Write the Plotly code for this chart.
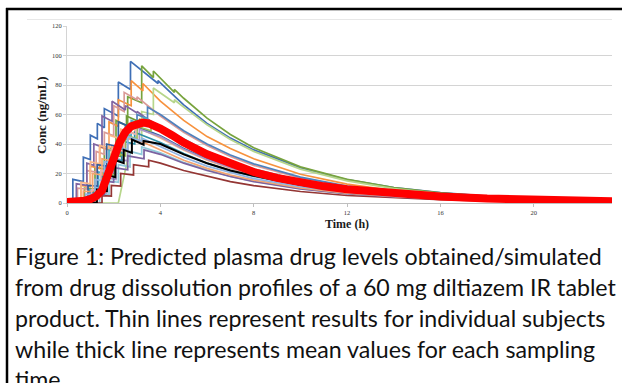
import plotly.graph_objects as go

# ---------------- data ----------------
DECAY_T = [4, 5, 6, 7, 8, 10, 12, 14, 16, 18, 20, 23.35]

S01_RISE_T = [0, 0.25, 0.25, 0.7, 0.7, 1.0, 1.0, 1.3, 1.3, 1.6, 1.6, 2.2, 2.2, 2.72, 2.72, 3.9, 3.9]
S01_RISE_C = [0, 0, 16, 14.5, 31, 29.5, 46, 43.5, 54, 51, 64, 59, 82, 77, 96, 81, 83]
S01_DECAY_C = [81.5, 66.5, 54, 44, 36, 24, 15.8, 10.5, 7, 4.6, 3.1, 1.6]

S02_RISE_T = [0, 0.75, 0.75, 1.2, 1.2, 1.6, 1.6, 2.1, 2.1, 2.6, 2.6, 3.2, 3.2, 3.7, 3.7, 4.6, 4.6]
S02_RISE_C = [0, 0, 10, 9.5, 24, 23, 38, 36, 56, 52, 72, 68, 93, 85, 89.5, 75, 77]
S02_DECAY_C = [71, 57.5, 46.5, 37.5, 24.5, 16, 10.5, 6.9, 4.5, 3, 1.5]          # from t = 5

S03_RISE_T = [0, 0.6, 0.6, 1.0, 1.0, 1.4, 1.4, 1.8, 1.8, 2.2, 2.2, 2.75, 2.75, 3.25, 3.25]
S03_RISE_C = [0, 0, 12, 11, 25, 23.5, 38, 36, 55, 52, 70, 66, 83, 76, 81]
S03_DECAY_C = [69, 56, 45, 37, 30, 19.5, 12.8, 8.4, 5.5, 3.6, 2.4, 1.2]

S04_RISE_T = [0, 2.2, 2.6, 2.6, 3.2, 3.2, 3.7, 3.7, 4.6, 4.6]
S04_RISE_C = [0, 0, 30, 45, 42, 62, 60, 78, 68, 70]
S04_DECAY_C = [65, 53, 43, 35, 23, 15, 9.8, 6.4, 4.2, 2.8, 1.4]               # from t = 5

S05_RISE_T = [0, 0.45, 0.45, 0.85, 0.85, 1.25, 1.25, 1.6, 1.6, 2.0, 2.0, 2.45, 2.45, 3.0, 3.0]
S05_RISE_C = [0, 0, 10, 9.5, 22, 21, 35, 33, 48, 45.5, 66, 62, 75, 70, 72]
S05_DECAY_C = [59, 48, 39, 31.5, 25.5, 17, 11, 7.2, 4.7, 3.1, 2, 1]

S06_RISE_T = [0, 0.4, 0.4, 0.85, 0.85, 1.15, 1.15, 1.5, 1.5, 1.93, 1.93, 2.5, 2.5, 3.0, 3.0]
S06_RISE_C = [0, 0, 13, 12, 27, 25.5, 40, 38, 59, 55.5, 69, 63, 66, 61, 62]
S06_DECAY_C = [50.5, 41, 33, 27, 22, 14.5, 9.5, 6.2, 4.1, 2.7, 1.8, 0.9]

S07_RISE_T = [0, 1.2, 1.2, 1.6, 1.6, 2.0, 2.0, 2.5, 2.5, 3.0, 3.0, 3.45, 3.45]
S07_RISE_C = [0, 0, 10, 9.5, 24, 23, 38, 36, 52, 49.5, 60, 57, 65]
S07_DECAY_C = [60, 49, 40, 32.5, 26.5, 17.5, 11.5, 7.5, 4.9, 3.2, 2.1, 1.05]

S08_RISE_T = [0, 0.95, 0.95, 1.35, 1.35, 1.8, 1.8, 2.3, 2.3, 2.75, 2.75, 3.3, 3.3]
S08_RISE_C = [0, 0, 9, 8.5, 21, 20, 36, 34, 48, 45.5, 56, 52.5, 58]
S08_DECAY_C = [52, 43, 35, 28.5, 23, 15.2, 10, 6.6, 4.3, 2.8, 1.9, 0.95]

S09_RISE_T = [0, 1.1, 1.1, 1.5, 1.5, 1.9, 1.9, 2.3, 2.3, 2.55, 2.55, 3.1, 3.1]
S09_RISE_C = [0, 0, 8, 7.5, 20, 19, 33, 31.5, 45, 43.5, 59, 55, 57]
S09_DECAY_C = [48.5, 39.5, 32, 26, 21, 14, 9.2, 6, 4, 2.6, 1.7, 0.85]

S10_RISE_T = [0, 0.6, 0.6, 1.0, 1.0, 1.4, 1.4, 1.8, 1.8, 2.3, 2.3, 2.9, 2.9]
S10_RISE_C = [0, 0, 14, 13, 28, 26.5, 39, 37, 46, 43.5, 50, 47, 52]
S10_DECAY_C = [44, 36, 29, 23.5, 19, 12.6, 8.3, 5.5, 3.6, 2.4, 1.6, 0.8]

S11_RISE_T = [0, 0.9, 0.9, 1.3, 1.3, 1.7, 1.7, 2.2, 2.2, 2.8, 2.8]
S11_RISE_C = [0, 0, 12, 11.5, 26, 25, 40, 38, 55, 51, 53]
S11_DECAY_C = [45.5, 37, 30, 24.5, 20, 13.2, 8.7, 5.7, 3.8, 2.5, 1.6, 0.8]

S12_RISE_T = [0, 1.3, 1.3, 1.7, 1.7, 2.1, 2.1, 2.6, 2.6, 3.1, 3.1]
S12_RISE_C = [0, 0, 7, 6.5, 17, 16, 30, 28.5, 44, 41.5, 50]
S12_DECAY_C = [45, 36.5, 29.5, 24, 19.5, 12.8, 8.4, 5.5, 3.6, 2.4, 1.6, 0.8]

S13_RISE_T = [0, 1.4, 1.4, 1.8, 1.8, 2.2, 2.2, 2.7, 2.7, 3.2, 3.2]
S13_RISE_C = [0, 0, 6, 5.5, 15, 14, 26, 24.5, 35, 33, 38]
S13_DECAY_C = [34, 27.5, 22.5, 18, 14.8, 9.7, 6.4, 4.2, 2.8, 1.8, 1.2, 0.6]

S14_RISE_T = [0, 1.5, 1.5, 1.9, 1.9, 2.3, 2.3, 2.85, 2.85, 3.5, 3.5]
S14_RISE_C = [0, 0, 5, 4.7, 12, 11.5, 20, 19, 26, 24.5, 29]
S14_DECAY_C = [27, 22, 18, 14.5, 11.8, 7.8, 5.1, 3.4, 2.2, 1.5, 1, 0.5]

S15_RISE_T = [0, 1.2, 1.2, 1.6, 1.6, 2.0, 2.0, 2.6, 2.6, 3.3, 3.3]
S15_RISE_C = [0, 0, 6, 5.7, 15, 14, 24, 22.5, 32, 30, 36]
S15_DECAY_C = [33, 27, 22, 18, 14.5, 9.6, 6.3, 4.1, 2.7, 1.8, 1.2, 0.6]

S16_RISE_T = [0, 0.7, 0.7, 1.1, 1.1, 1.5, 1.5, 1.9, 1.9, 2.4, 2.4, 3.0, 3.0]
S16_RISE_C = [0, 0, 8, 7.5, 20, 19, 30, 28.5, 38, 36, 45, 42, 43]
S16_DECAY_C = [36, 29, 23.5, 19, 15.5, 10.2, 6.7, 4.4, 2.9, 1.9, 1.25, 0.6]

S17_RISE_T = [0, 1.0, 1.0, 1.45, 1.45, 1.85, 1.85, 2.35, 2.35, 2.9, 2.9]
S17_RISE_C = [0, 0, 7, 6.6, 18, 17, 30, 28.5, 42, 40, 48]
S17_DECAY_C = [41, 33.5, 27, 22, 18, 11.8, 7.8, 5.1, 3.4, 2.2, 1.45, 0.7]

S18_RISE_T = [0, 1.25, 1.25, 1.65, 1.65, 2.05, 2.05, 2.5, 2.5, 3.0, 3.0, 3.6, 3.6]
S18_RISE_C = [0, 0, 8, 7.5, 20, 19, 34, 32, 46, 43.5, 52, 49, 53]
S18_DECAY_C = [50.5, 41.5, 33.5, 27.5, 22.5, 14.8, 9.7, 6.4, 4.2, 2.8, 1.8, 0.9]

S19_RISE_T = [0, 1.05, 1.05, 1.45, 1.45, 1.95, 1.95, 2.45, 2.45, 2.95, 2.95, 3.45, 3.45]
S19_RISE_C = [0, 0, 9, 8.5, 22, 21, 37, 35, 49, 46.5, 54, 51.5, 56]
S19_DECAY_C = [52, 42.5, 34.5, 28, 23, 15, 9.9, 6.5, 4.3, 2.8, 1.85, 0.9]

S20_RISE_T = [0, 0.8, 0.8, 1.2, 1.2, 1.6, 1.6, 2.1, 2.1, 2.6, 2.6, 3.2, 3.2]
S20_RISE_C = [0, 0, 6, 5.7, 16, 15, 28, 26.5, 38, 36, 45, 42, 44]
S20_DECAY_C = [38, 31, 25, 20.5, 16.5, 11, 7.2, 4.7, 3.1, 2, 1.35, 0.65]

BLACK_RISE_T = [0, 1.28, 1.28, 1.71, 1.71, 2.07, 2.07, 2.43, 2.43, 2.78, 2.78, 3.28, 3.28]
BLACK_RISE_C = [0, 0, 9, 8, 19, 17.5, 29, 27, 36, 34, 43, 39.5, 42]
BLACK_DECAY_C = [40, 33, 27, 22, 18.5, 12.3, 8.2, 5.5, 3.7, 2.5, 1.65, 0.85]

MEAN_T = [0, 0.25, 0.5, 0.75, 1, 1.25, 1.5, 1.75, 2, 2.25, 2.5, 2.75, 3, 3.25, 3.5, 3.75, 4,
          4.5, 5, 6, 7, 8, 9, 10, 11, 12, 14, 16, 18, 20, 22, 23.35]
MEAN_C = [0.6, 0.7, 1, 1.6, 2.6, 4.6, 8.5, 18, 30, 41, 48, 52, 53.5, 54.5, 54, 52.5, 50.5,
          46, 41, 33, 26.5, 21, 17, 13.8, 11.3, 9.3, 6.4, 4.4, 3, 2.1, 1.5, 1.2]

Y_TICKS = [0, 20, 40, 60, 80, 100, 120]
X_TICKS = [0, 4, 8, 12, 16, 20]

CAPTION = [
    "Figure 1: Predicted plasma drug levels obtained/simulated",
    "from drug dissolution profiles of a 60 mg diltiazem IR tablet",
    "product. Thin lines represent results for individual subjects",
    "while thick line represents mean values for each sampling",
    "time",
]

# ---------------- build ----------------
subjects = [
    (S01_RISE_T + DECAY_T, S01_RISE_C + S01_DECAY_C, "#3F6FB6"),
    (S02_RISE_T + DECAY_T[1:], S02_RISE_C + S02_DECAY_C, "#77A33D"),
    (S03_RISE_T + DECAY_T, S03_RISE_C + S03_DECAY_C, "#F7923E"),
    (S04_RISE_T + DECAY_T[1:], S04_RISE_C + S04_DECAY_C, "#B7D68B"),
    (S05_RISE_T + DECAY_T, S05_RISE_C + S05_DECAY_C, "#DA9A97"),
    (S06_RISE_T + DECAY_T, S06_RISE_C + S06_DECAY_C, "#8064A2"),
    (S07_RISE_T + DECAY_T, S07_RISE_C + S07_DECAY_C, "#4F81BD"),
    (S08_RISE_T + DECAY_T, S08_RISE_C + S08_DECAY_C, "#4BACC6"),
    (S09_RISE_T + DECAY_T, S09_RISE_C + S09_DECAY_C, "#6E9A35"),
    (S10_RISE_T + DECAY_T, S10_RISE_C + S10_DECAY_C, "#FAB888"),
    (S11_RISE_T + DECAY_T, S11_RISE_C + S11_DECAY_C, "#2F5E9E"),
    (S12_RISE_T + DECAY_T, S12_RISE_C + S12_DECAY_C, "#A895C6"),
    (S13_RISE_T + DECAY_T, S13_RISE_C + S13_DECAY_C, "#8FCADB"),
    (S14_RISE_T + DECAY_T, S14_RISE_C + S14_DECAY_C, "#943634"),
    (S15_RISE_T + DECAY_T, S15_RISE_C + S15_DECAY_C, "#7B62A0"),
    (S16_RISE_T + DECAY_T, S16_RISE_C + S16_DECAY_C, "#F5A46E"),
    (S17_RISE_T + DECAY_T, S17_RISE_C + S17_DECAY_C, "#2E8EA6"),
    (S18_RISE_T + DECAY_T, S18_RISE_C + S18_DECAY_C, "#9BBB59"),
    (S19_RISE_T + DECAY_T, S19_RISE_C + S19_DECAY_C, "#E6B3B1"),
    (S20_RISE_T + DECAY_T, S20_RISE_C + S20_DECAY_C, "#8EB4E3"),
]

fig = go.Figure()
for t, c, col in subjects:
    fig.add_trace(go.Scatter(x=t, y=c, mode="lines", line=dict(color=col, width=1.7),
                             showlegend=False, hoverinfo="skip"))
fig.add_trace(go.Scatter(x=BLACK_RISE_T + DECAY_T, y=BLACK_RISE_C + BLACK_DECAY_C, mode="lines",
                         line=dict(color="#000000", width=2), showlegend=False))
fig.add_trace(go.Scatter(x=MEAN_T, y=MEAN_C, mode="lines",
                         line=dict(color="#FF0000", width=8), showlegend=False))

W, H = 622, 383
L, R, T, B = 67, 10, 26, 180
pw, ph = W - L - R, H - T - B


def px(x):
    return (x - L) / pw


def py(y):
    return (H - B - y) / ph


tick_font = dict(family="Liberation Serif", size=6.5, color="#333333")
fig.update_layout(
    width=W, height=H,
    margin=dict(l=L, r=R, t=T, b=B, pad=0),
    paper_bgcolor="white", plot_bgcolor="white",
    xaxis=dict(range=[0, 23.35], tickvals=X_TICKS, ticktext=[str(v) for v in X_TICKS],
               showgrid=False, zeroline=False, showline=True, linecolor="#BFBFBF", linewidth=1,
               ticks="outside", ticklen=3, tickcolor="#BFBFBF", tickfont=tick_font,
               automargin=False),
    yaxis=dict(range=[0, 120], tickvals=Y_TICKS, ticktext=[str(v) for v in Y_TICKS],
               showgrid=True, gridcolor="#D4D4D4", gridwidth=1, zeroline=False,
               showline=True, linecolor="#D4D4D4", linewidth=1,
               ticks="outside", ticklen=3, tickcolor="#D4D4D4", tickfont=tick_font,
               automargin=False),
    shapes=[
        dict(type="line", xref="paper", yref="paper", x0=px(7), x1=px(7), y0=py(8), y1=py(H + 5),
             line=dict(color="black", width=2.5)),
        dict(type="line", xref="paper", yref="paper", x0=px(6), x1=px(W + 5), y0=py(9), y1=py(9),
             line=dict(color="black", width=2.5)),
        dict(type="line", xref="paper", yref="paper", x0=px(27), x1=px(612), y0=py(19.5), y1=py(19.5),
             line=dict(color="#E8E8E8", width=1)),
    ],
)

ann = [
    dict(text="<b>Conc (ng/mL)</b>", x=px(42), y=py(115), xref="paper", yref="paper",
         xanchor="center", yanchor="middle",
         showarrow=False, textangle=-90, font=dict(family="Liberation Serif", size=13, color="#1a1a1a")),
    dict(text="<b>Time (h)</b>", x=px(347), y=py(224), xref="paper", yref="paper",
         xanchor="center", yanchor="middle",
         showarrow=False, font=dict(family="Liberation Serif", size=12, color="#1a1a1a")),
]
line_y = [256, 287, 318, 348.5, 379]
for txt, yy in zip(CAPTION, line_y):
    ann.append(dict(text=txt, x=px(13), y=py(yy), xref="paper", yref="paper", xanchor="left",
                    yanchor="middle", showarrow=False,
                    font=dict(family="Lato", size=23.2, color="#111")))
fig.update_layout(annotations=ann)

fig.write_html("out.html", config={"displayModeBar": False},
               post_script="document.body.style.margin='0px';")
